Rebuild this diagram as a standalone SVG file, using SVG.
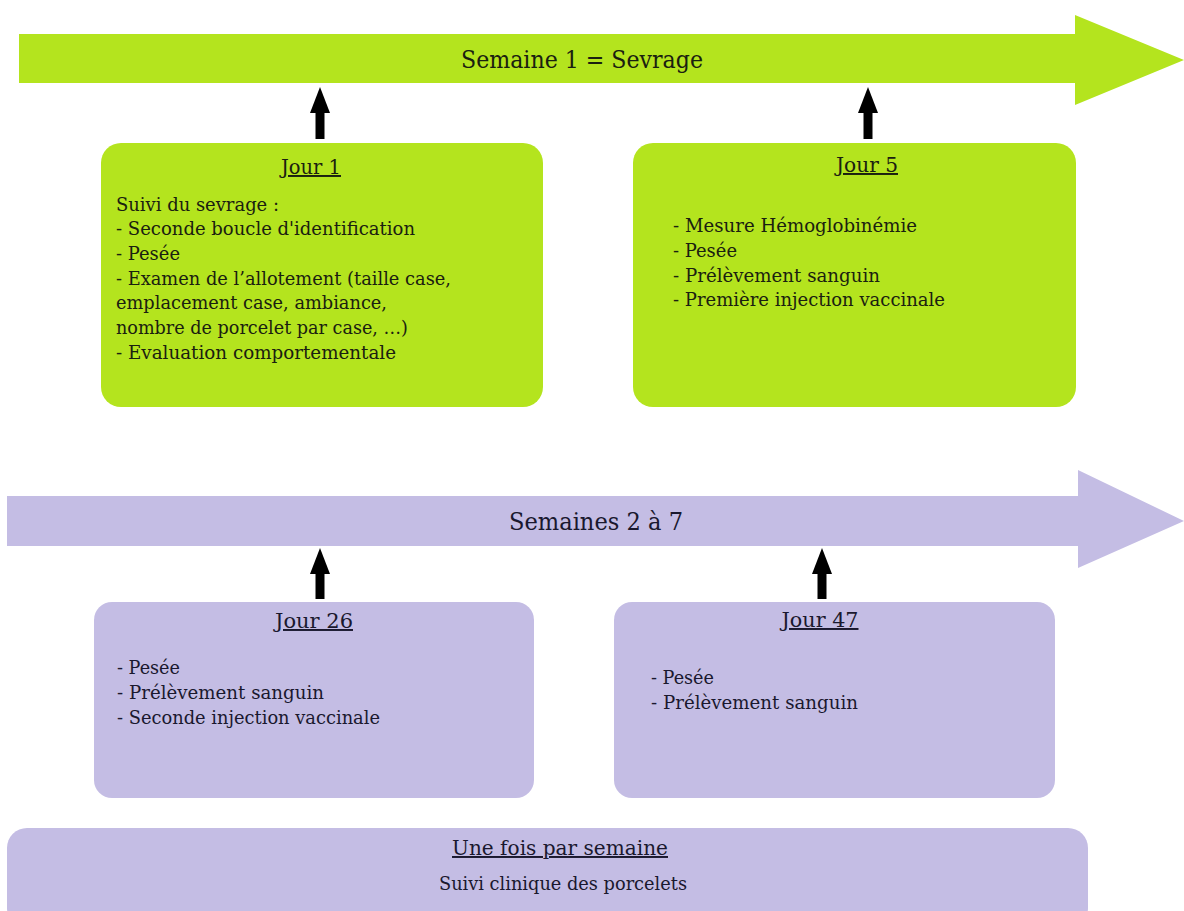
<svg xmlns="http://www.w3.org/2000/svg" width="1184" height="911" viewBox="0 0 1184 911">
<defs>
<style>
.t{font-family:"DejaVu Serif","Liberation Serif",serif;fill:#1a2010;}
.tp{font-family:"DejaVu Serif","Liberation Serif",serif;fill:#1a182e;}
.body{font-size:18px;}
.title{font-size:19.5px;text-decoration:underline;}
.big{font-size:24px;}
.green{fill:#b4e41e;}
.purple{fill:#c4bde4;}
.conn{stroke:#000;stroke-width:9;fill:none;}
</style>
<marker id="ah" markerUnits="userSpaceOnUse" markerWidth="26" markerHeight="20" refX="0" refY="10" orient="auto" viewBox="0 0 26 20">
<path d="M0,0 L26,10 L0,20 Z" fill="#000"/>
</marker>
</defs>
<rect width="1184" height="911" fill="#fff"/>

<g id="timeline1">
<polygon class="green" points="19,34 1075,34 1075,15 1184,60 1075,105 1075,83 19,83"/>
<text class="t big" x="582" y="68" text-anchor="middle" textLength="242" lengthAdjust="spacingAndGlyphs">Semaine 1 = Sevrage</text>
</g>

<g id="timeline2">
<polygon class="purple" points="7,496 1078,496 1078,470 1184,521 1078,568 1078,546 7,546"/>
<text class="tp big" x="596" y="530" text-anchor="middle" textLength="174" lengthAdjust="spacingAndGlyphs">Semaines 2 à 7</text>
</g>

<g id="jour1">
<rect class="green" x="101" y="143" width="442" height="264" rx="20"/>
<text class="t title" x="311" y="174" text-anchor="middle" textLength="60" lengthAdjust="spacingAndGlyphs">Jour 1</text>
<text class="t body" x="116" y="211" textLength="163" lengthAdjust="spacingAndGlyphs">Suivi du sevrage :</text>
<text class="t body" x="116" y="235" textLength="299" lengthAdjust="spacingAndGlyphs">- Seconde boucle d'identification</text>
<text class="t body" x="116" y="260" textLength="64" lengthAdjust="spacingAndGlyphs">- Pesée</text>
<text class="t body" x="116" y="285" textLength="335" lengthAdjust="spacingAndGlyphs">- Examen de l’allotement (taille case,</text>
<text class="t body" x="116" y="309" textLength="271" lengthAdjust="spacingAndGlyphs">emplacement case, ambiance,</text>
<text class="t body" x="116" y="334" textLength="292" lengthAdjust="spacingAndGlyphs">nombre de porcelet par case, …)</text>
<text class="t body" x="116" y="359" textLength="280" lengthAdjust="spacingAndGlyphs">- Evaluation comportementale</text>
</g>

<g id="jour5">
<rect class="green" x="633" y="143" width="443" height="264" rx="20"/>
<text class="t title" x="867" y="172" text-anchor="middle" textLength="62" lengthAdjust="spacingAndGlyphs">Jour 5</text>
<text class="t body" x="673" y="232" textLength="244" lengthAdjust="spacingAndGlyphs">- Mesure Hémoglobinémie</text>
<text class="t body" x="673" y="257" textLength="64" lengthAdjust="spacingAndGlyphs">- Pesée</text>
<text class="t body" x="673" y="282" textLength="207" lengthAdjust="spacingAndGlyphs">- Prélèvement sanguin</text>
<text class="t body" x="673" y="306" textLength="272" lengthAdjust="spacingAndGlyphs">- Première injection vaccinale</text>
</g>

<g id="jour26">
<rect class="purple" x="94" y="602" width="440" height="196" rx="18"/>
<text class="tp title" x="314" y="628" text-anchor="middle" textLength="78" lengthAdjust="spacingAndGlyphs">Jour 26</text>
<text class="tp body" x="117" y="674" textLength="63" lengthAdjust="spacingAndGlyphs">- Pesée</text>
<text class="tp body" x="117" y="699" textLength="207" lengthAdjust="spacingAndGlyphs">- Prélèvement sanguin</text>
<text class="tp body" x="117" y="724" textLength="263" lengthAdjust="spacingAndGlyphs">- Seconde injection vaccinale</text>
</g>

<g id="jour47">
<rect class="purple" x="614" y="602" width="441" height="196" rx="18"/>
<text class="tp title" x="820" y="627" text-anchor="middle" textLength="77" lengthAdjust="spacingAndGlyphs">Jour 47</text>
<text class="tp body" x="651" y="684" textLength="63" lengthAdjust="spacingAndGlyphs">- Pesée</text>
<text class="tp body" x="651" y="709" textLength="207" lengthAdjust="spacingAndGlyphs">- Prélèvement sanguin</text>
</g>

<g id="hebdo">
<rect class="purple" x="7" y="828" width="1081" height="100" rx="20"/>
<text class="tp title" x="560" y="855" text-anchor="middle" textLength="216" lengthAdjust="spacingAndGlyphs">Une fois par semaine</text>
<text class="tp body" x="563" y="890" text-anchor="middle" textLength="248" lengthAdjust="spacingAndGlyphs">Suivi clinique des porcelets</text>
</g>

<g id="connectors">
<line class="conn" x1="320" y1="139" x2="320" y2="113" marker-end="url(#ah)"/>
<line class="conn" x1="868" y1="139" x2="868" y2="113" marker-end="url(#ah)"/>
<line class="conn" x1="320" y1="599" x2="320" y2="574" marker-end="url(#ah)"/>
<line class="conn" x1="822" y1="599" x2="822" y2="574" marker-end="url(#ah)"/>
</g>
</svg>
